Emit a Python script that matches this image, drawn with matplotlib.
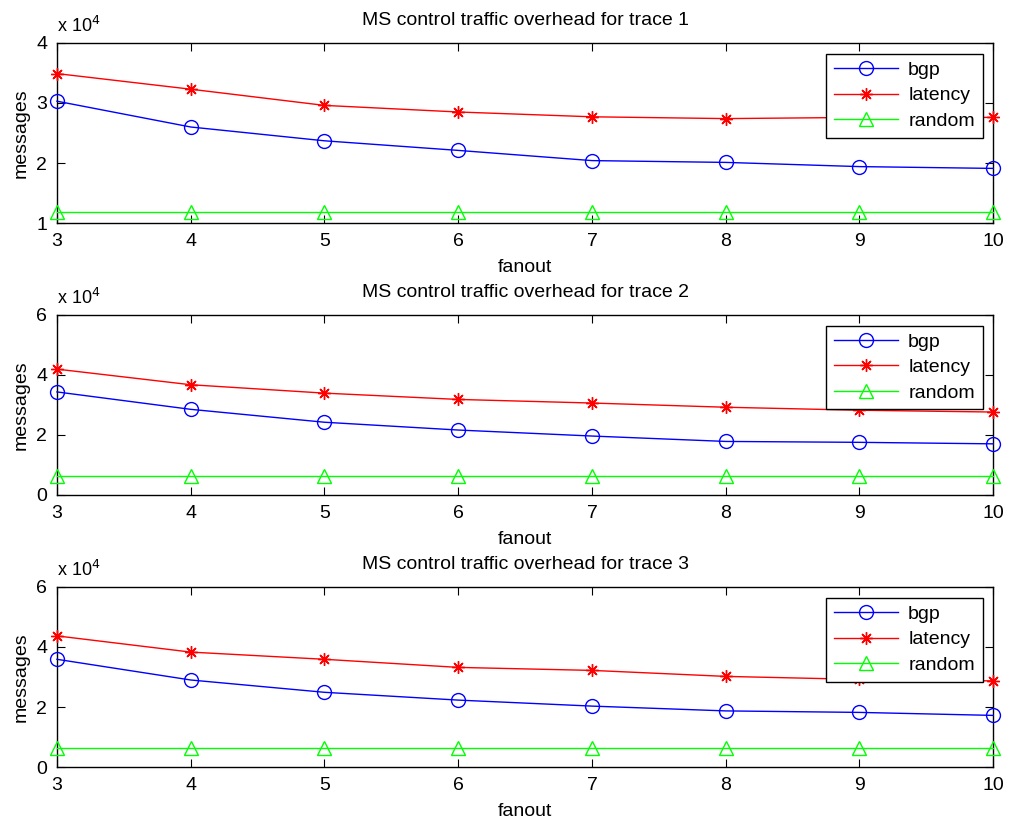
import matplotlib
matplotlib.use("Agg")
import matplotlib.pyplot as plt
import matplotlib.ticker as ticker

plt.rcParams["font.family"] = ["Liberation Sans", "DejaVu Sans"]

# ── Data (messages) ──────────────────────────────────────────────────────────
fanout = [3, 4, 5, 6, 7, 8, 9, 10]

bgp_t1     = [30300, 26000, 23700, 22100, 20400, 20100, 19400, 19100]
latency_t1 = [34900, 32300, 29600, 28500, 27700, 27400, 27600, 27600]
random_t1  = [11900, 11900, 11900, 11900, 11900, 11900, 11900, 11900]

bgp_t2     = [34300, 28500, 24200, 21600, 19600, 17800, 17500, 17000]
latency_t2 = [41900, 36700, 33900, 31800, 30600, 29200, 28200, 27600]
random_t2  = [6300, 6300, 6300, 6300, 6300, 6300, 6300, 6300]

bgp_t3     = [35900, 29000, 24900, 22300, 20300, 18700, 18200, 17200]
latency_t3 = [43700, 38300, 35900, 33200, 32200, 30200, 29200, 28700]
random_t3  = [6200, 6200, 6200, 6200, 6200, 6200, 6200, 6200]

traces = [
    ("MS control traffic overhead for trace 1", bgp_t1, latency_t1, random_t1, (1e4, 4e4), [1e4, 2e4, 3e4, 4e4]),
    ("MS control traffic overhead for trace 2", bgp_t2, latency_t2, random_t2, (0, 6e4), [0, 2e4, 4e4, 6e4]),
    ("MS control traffic overhead for trace 3", bgp_t3, latency_t3, random_t3, (0, 6e4), [0, 2e4, 4e4, 6e4]),
]

# axes bottoms in figure fraction
bottoms = [0.7287, 0.398, 0.0669]
LEFT, WIDTH, HEIGHT = 0.0564, 0.927, 0.219
FS = 14

# asterisk like '+' and 'x' laid over each other
ASTERISK = (8, 2, 0)

fig = plt.figure(figsize=(10.1, 8.22), dpi=100)

for (title, bgp, lat, rnd, ylim, yticks), bottom in zip(traces, bottoms):
    ax = fig.add_axes([LEFT, bottom, WIDTH, HEIGHT])
    ax.plot(fanout, bgp, "-", marker="o", color="#0000FF", lw=1.0, ms=10, mfc="none",
            mew=1.0, label="bgp", clip_on=False, zorder=3)
    ax.plot(fanout, lat, "-", marker=ASTERISK, color="#FF0000", lw=1.0, ms=9,
            mew=1.0, label="latency", clip_on=False, zorder=3)
    ax.plot(fanout, rnd, "-", marker="^", color="#00FF00", lw=1.0, ms=10, mfc="none",
            mew=1.0, label="random", clip_on=False, zorder=3)

    ax.set_xlim(3, 10)
    ax.set_ylim(*ylim)
    ax.set_xticks(fanout)
    ax.set_yticks(yticks)
    ax.yaxis.set_major_formatter(ticker.FuncFormatter(lambda v, p: f"{v / 1e4:g}"))
    ax.tick_params(direction="in", top=True, right=True, length=6, width=0.8,
                   labelsize=FS, pad=7)
    for sp in ax.spines.values():
        sp.set_linewidth(1.0)

    ax.set_title(title, fontsize=FS, pad=13)
    ax.set_xlabel("fanout", fontsize=FS, labelpad=7)
    ax.set_ylabel("messages", fontsize=FS, labelpad=5)
    ax.text(0.0, 1.04, r"x 10$^{4}$", transform=ax.transAxes, fontsize=FS - 1,
            ha="left", va="bottom")

    leg = ax.legend(loc="upper right", fontsize=FS, fancybox=False,
                    framealpha=1, edgecolor="black", borderaxespad=0.55,
                    borderpad=0.4, handlelength=3.3, handletextpad=0.5,
                    labelspacing=0.4)
    leg.get_frame().set_linewidth(1.0)
    leg.set_zorder(5)

fig.savefig("out.png", dpi=100)
